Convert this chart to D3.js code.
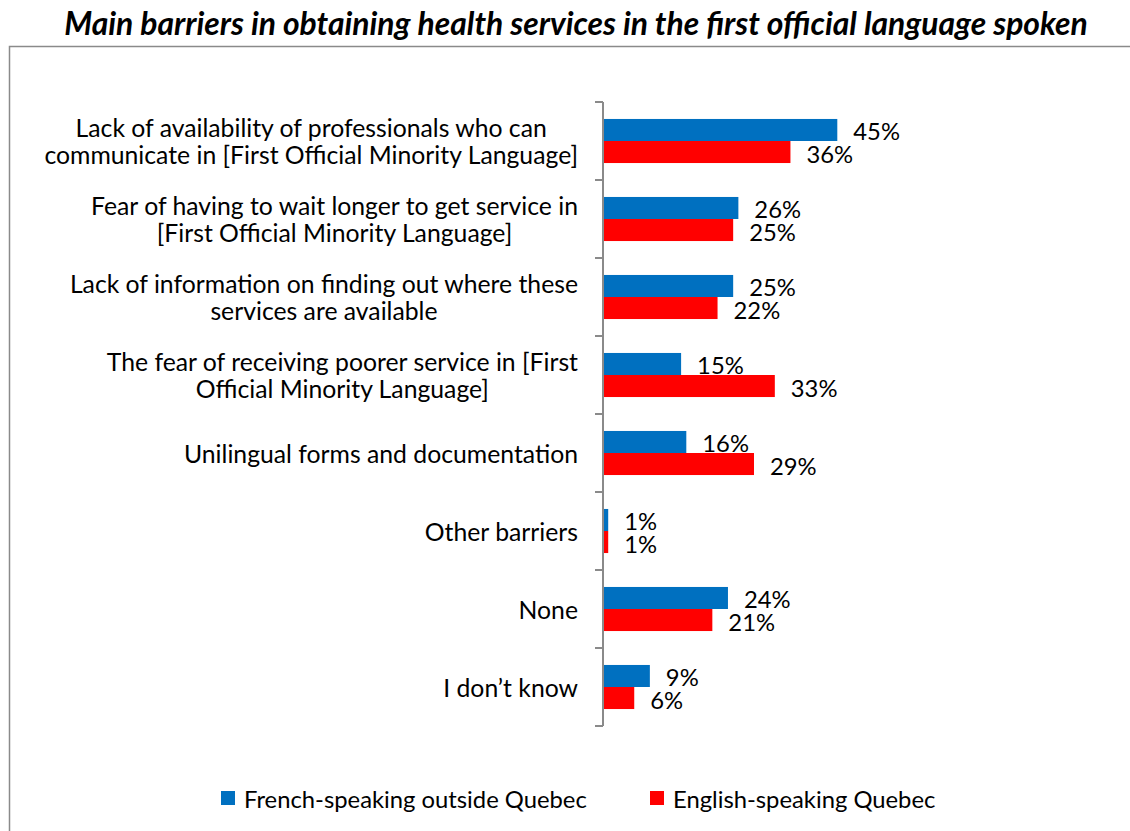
<!DOCTYPE html>
<html>
<head>
<meta charset="utf-8">
<script src="https://cdn.jsdelivr.net/npm/d3@7"></script>
<style>
  html, body { margin: 0; padding: 0; background: #fff; }
  svg { display: block; }
  text { font-family: Lato, "Open Sans", sans-serif; fill: #000; }
</style>
</head>
<body>
<svg id="chart" width="1130" height="831"></svg>
<script>
// Survey categories (each entry is a list of wrapped lines)
const categories = [
  ["Lack of availability of professionals who can", "communicate in [First Official Minority Language]"],
  ["Fear of having to wait longer to get service in", "[First Official Minority Language]"],
  ["Lack of information on finding out where these", "services are available"],
  ["The fear of receiving poorer service in [First", "Official Minority Language]"],
  ["Unilingual forms and documentation"],
  ["Other barriers"],
  ["None"],
  ["I don\u2019t know"]
];
const seriesNames = ["French-speaking outside Quebec", "English-speaking Quebec"];
const frenchOutsideQuebec = [45, 26, 25, 15, 16, 1, 24, 9];
const englishQuebec = [36, 25, 22, 33, 29, 1, 21, 6];
const seriesColors = ["#0070C0", "#FF0000"];
const titleText = "Main barriers in obtaining health services in the first official language spoken";

const svg = d3.select("#chart");
const catKeys = categories.map((c, i) => "c" + i);
const seriesValues = [frenchOutsideQuebec, englishQuebec];

// Frame around the plot area
svg.append("rect")
  .attr("x", 9.5).attr("y", 46.5)
  .attr("width", 1140).attr("height", 820)
  .attr("fill", "none")
  .attr("stroke", "#8a8a8a")
  .attr("stroke-width", 1.5);

// Title, sized to its intended width
const title = svg.append("text")
  .attr("x", 576).attr("y", 35)
  .attr("text-anchor", "middle")
  .style("font-weight", "bold")
  .style("font-style", "italic")
  .style("font-size", "26px")
  .text(titleText);
const tw = title.node().getComputedTextLength();
title.style("font-size", (26 * 1024 / tw).toFixed(2) + "px");

// Font sizes: body text fitted to the legend width, category text to a wrapped line
function fitSize(str, target) {
  const p = svg.append("text").style("font-size", "20px").text(str);
  const w = p.node().getComputedTextLength();
  p.remove();
  return 20 * target / w;
}
const fs = fitSize(seriesNames[0], 343);
const catFs = fitSize(categories[1][0], 487);

// Scales
const x = d3.scaleLinear().domain([0, 45]).range([603, 837.3]);
const y = d3.scaleBand().domain(catKeys).range([102, 726]);
const yInner = d3.scaleBand().domain([0, 1]).range([0, y.bandwidth()]).paddingOuter(0.77);

// Axis line with tick marks between categories
const axisG = svg.append("g");
axisG.append("line")
  .attr("x1", x(0)).attr("x2", x(0))
  .attr("y1", y.range()[0]).attr("y2", y.range()[1])
  .attr("stroke", "#8a8a8a").attr("stroke-width", 2);
const boundaries = catKeys.map(k => y(k)).concat([y(catKeys[catKeys.length - 1]) + y.bandwidth()]);
axisG.selectAll("line.tick").data(boundaries).join("line")
  .attr("class", "tick")
  .attr("x1", x(0) - 8).attr("x2", x(0))
  .attr("y1", d => d).attr("y2", d => d)
  .attr("stroke", "#8a8a8a").attr("stroke-width", 2);

// Bars and value labels
seriesValues.forEach((vals, s) => {
  const g = svg.append("g");
  g.selectAll("rect").data(vals).join("rect")
    .attr("x", x(0) + 1)
    .attr("y", (d, i) => y(catKeys[i]) + yInner(s))
    .attr("width", d => x(d) - x(0) - 1)
    .attr("height", yInner.bandwidth())
    .attr("fill", seriesColors[s]);
  g.selectAll("text").data(vals).join("text")
    .attr("x", d => x(d) + 16)
    .attr("y", (d, i) => y(catKeys[i]) + yInner(s) + yInner.bandwidth() / 2 + 1)
    .attr("dominant-baseline", "central")
    .style("font-size", fs + "px")
    .text(d => d + "%");
});

// Category labels: lines centred on each other, block right-aligned
const labelRight = 578;
const lineH = 27;
categories.forEach((lines, i) => {
  const t = svg.append("text").style("font-size", catFs + "px");
  const spans = lines.map(l => t.append("tspan").text(l));
  const maxW = d3.max(spans, s => s.node().getComputedTextLength());
  const cx = labelRight - maxW / 2;
  const cy = y(catKeys[i]) + y.bandwidth() / 2;
  spans.forEach((s, j) => {
    s.attr("x", cx)
     .attr("y", cy + (j - (lines.length - 1) / 2) * lineH)
     .attr("text-anchor", "middle")
     .attr("dominant-baseline", "central");
  });
});

// Legend
const legendPos = [221, 650];
seriesNames.forEach((name, s) => {
  svg.append("rect")
    .attr("x", legendPos[s]).attr("y", 791)
    .attr("width", 14).attr("height", 14)
    .attr("fill", seriesColors[s]);
  svg.append("text")
    .attr("x", legendPos[s] + 23).attr("y", 798)
    .attr("dominant-baseline", "central")
    .style("font-size", fs + "px")
    .text(name);
});
</script>
</body>
</html>
